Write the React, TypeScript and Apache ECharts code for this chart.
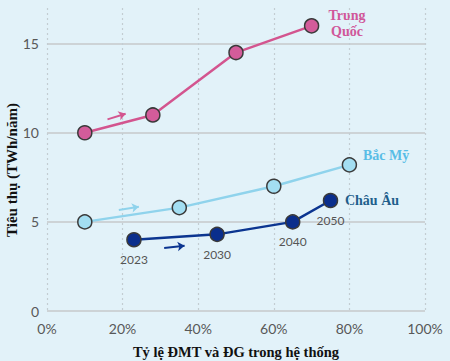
import React, { useEffect, useRef } from "react";
import * as echarts from "echarts";

const xTicks = [0, 20, 40, 60, 80, 100];
const yTicks = [0, 5, 10, 15];
const chinaX = [10, 28, 50, 70];
const chinaY = [10, 11, 14.5, 16];
const naX = [10, 35, 60, 80];
const naY = [5, 5.8, 7, 8.2];
const euX = [23, 45, 65, 75];
const euY = [4, 4.3, 5, 6.2];
const euYears = ["2023", "2030", "2040", "2050"];
const chinaArrow = [[16, 10.75], [20.8, 11.07]];
const naArrow = [[19, 5.67], [24.3, 5.85]];
const euArrow = [[31, 3.54], [36.4, 3.66]];

const PINK = "#d3558f";
const LIGHT = "#8fd3ec";
const DARK = "#0b3590";

function arrow(pts: number[][], color: string) {
  return {
    silent: true,
    symbol: ["none", "arrow"],
    symbolSize: 7,
    label: { show: false },
    lineStyle: { color, width: 2, type: "solid" },
    data: [[{ coord: pts[0] }, { coord: pts[1] }]],
  };
}

function series(name: string, xs: number[], ys: number[], line: string, fill: string, ar: number[][], extra: any = {}) {
  return {
    name,
    type: "line",
    data: xs.map((x, i) => [x, ys[i]]),
    symbol: "circle",
    symbolSize: 14,
    lineStyle: { color: line, width: 2.5 },
    itemStyle: { color: fill, borderColor: "#3a3a3a", borderWidth: 1.5 },
    markLine: arrow(ar, line),
    z: 3,
    ...extra,
  };
}

export default function App() {
  const ref = useRef<HTMLDivElement>(null);
  useEffect(() => {
    const chart = echarts.init(ref.current!, null, { renderer: "svg" });
    const serif = "'Liberation Serif', 'Times New Roman', serif";
    chart.setOption({
      animation: false,
      backgroundColor: "#e2f2f9",
      grid: { left: 47, right: 25, top: 8, bottom: 50 },
      xAxis: {
        type: "value",
        min: 0,
        max: 100,
        interval: 20,
        axisLine: { show: false },
        axisTick: { show: false },
        axisLabel: {
          formatter: (v: number) => (xTicks.includes(v) ? v + "%" : ""),
          color: "#585858",
          fontSize: 14,
          fontFamily: "Lato, 'Open Sans', sans-serif",
          margin: 10,
        },
        splitLine: { show: true, lineStyle: { color: "#c3cdd2", type: [2, 3], width: 1.2 } },
      },
      yAxis: {
        type: "value",
        min: 0,
        max: 17,
        interval: 5,
        axisLine: { show: false },
        axisTick: { show: false },
        axisLabel: {
          formatter: (v: number) => (yTicks.includes(v) ? String(v) : ""),
          color: "#585858",
          fontSize: 14,
          fontFamily: "Lato, 'Open Sans', sans-serif",
          margin: 8,
        },
        splitLine: {
          show: true,
          lineStyle: { color: ["#cdd3d6", "#cdd3d6", "#cdd3d6", "#cdd3d6", "rgba(0,0,0,0)"], width: 2 },
        },
      },
      series: [
        series("Trung Quốc", chinaX, chinaY, PINK, "#d35c9a", chinaArrow),
        series("Bắc Mỹ", naX, naY, LIGHT, "#a3def2", naArrow),
        series("Châu Âu", euX, euY, DARK, "#0a2e8c", euArrow, {
          label: {
            show: true,
            position: "bottom",
            distance: 6,
            color: "#555",
            fontSize: 12,
            fontFamily: "Lato, 'Open Sans', sans-serif",
            formatter: (p: any) => euYears[p.dataIndex],
          },
        }),
      ],
      graphic: [
        {
          type: "text",
          x: 12,
          y: 170,
          rotation: Math.PI / 2,
          style: {
            text: "Tiêu thụ (TWh/năm)",
            font: `bold 15px ${serif}`,
            fill: "#111",
            align: "center",
            verticalAlign: "middle",
          },
        },
        {
          type: "text",
          x: 236,
          y: 352,
          style: {
            text: "Tỷ lệ ĐMT và ĐG trong hệ thống",
            font: `bold 14.5px ${serif}`,
            fill: "#111",
            align: "center",
            verticalAlign: "middle",
          },
        },
        {
          type: "text",
          x: 347,
          y: 23,
          style: {
            text: "Trung\nQuốc",
            font: `bold 14px ${serif}`,
            lineHeight: 16,
            fill: "#d0579a",
            align: "center",
            verticalAlign: "middle",
          },
        },
        {
          type: "text",
          x: 386,
          y: 155,
          style: {
            text: "Bắc Mỹ",
            font: `bold 14px ${serif}`,
            fill: "#58bde6",
            align: "center",
            verticalAlign: "middle",
          },
        },
        {
          type: "text",
          x: 372,
          y: 200,
          style: {
            text: "Châu Âu",
            font: `bold 14px ${serif}`,
            fill: "#1f5f8c",
            align: "center",
            verticalAlign: "middle",
          },
        },
      ],
    });
    return () => chart.dispose();
  }, []);
  return <div ref={ref} style={{ width: 450, height: 361, position: "absolute", left: 0, top: 0 }} />;
}
